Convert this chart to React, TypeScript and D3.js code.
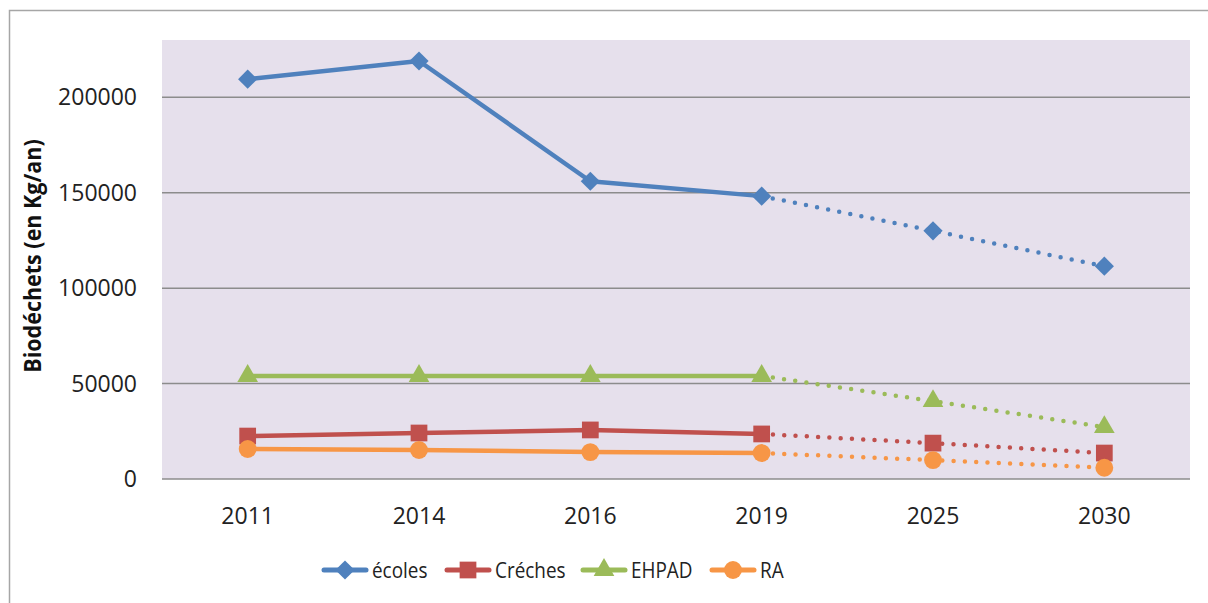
import React, { useEffect, useRef } from 'react';
import * as d3 from 'd3';

const years = ['2011', '2014', '2016', '2019', '2025', '2030'];
const ecoles = [209500, 219000, 156000, 148200, 130000, 111500];
const creches = [22500, 24100, 25700, 23600, 18800, 13600];
const ehpad = [54000, 54000, 54000, 54000, 40800, 27200];
const ra = [15700, 15200, 14100, 13600, 9900, 5900];
const yTicks = [0, 50000, 100000, 150000, 200000];

const seriesNames = ['écoles', 'Créches', 'EHPAD', 'RA'];
const seriesColors = ['#4f81bd', '#c0504d', '#9bbb59', '#f79646'];
const seriesShapes = [d3.symbolSquare, d3.symbolSquare, d3.symbolTriangle, d3.symbolCircle];
const shapeSizes = [185, 280, 185, 250];
const shapeRotate = [45, 0, 0, 0];
const legendX = [324, 447, 583, 712];

const W = 1208, H = 603;
const left = 162, right = 1190, top = 40, bottom = 479;
const font = '"Open Sans", "DejaVu Sans", sans-serif';

const App = () => {
  const ref = useRef<SVGSVGElement>(null);

  useEffect(() => {
    const svg = d3.select(ref.current);
    svg.selectAll('*').remove();

    const x = d3.scalePoint().domain(years).range([left, right]).padding(0.5);
    const y = d3.scaleLinear().domain([0, 230000]).range([bottom, top]);

    // outer frame
    svg.append('rect').attr('x', 9.5).attr('y', 10.5).attr('width', 1220).attr('height', 620)
      .attr('fill', 'white').attr('stroke', '#a6a6a6').attr('stroke-width', 1.5);

    svg.append('rect').attr('x', left).attr('y', top).attr('width', right - left).attr('height', bottom - top)
      .attr('fill', '#e6e0ec');

    // grid
    svg.selectAll('.grid').data(yTicks).enter().append('line')
      .attr('x1', left).attr('x2', right)
      .attr('y1', d => y(d)).attr('y2', d => y(d))
      .attr('stroke', '#8c8c8c').attr('stroke-width', 1.5);

    svg.selectAll('.ylab').data(yTicks).enter().append('text')
      .text(d => String(d))
      .attr('x', 137).attr('y', d => y(d)).attr('dy', '0.35em')
      .attr('text-anchor', 'end').attr('font-family', font).attr('font-size', 23).attr('fill', '#222');

    svg.selectAll('.xlab').data(years).enter().append('text')
      .text(d => d)
      .attr('x', d => x(d)!).attr('y', 516).attr('dy', '0.35em')
      .attr('text-anchor', 'middle').attr('font-family', font).attr('font-size', 23).attr('fill', '#222');

    svg.append('text').text('Biodéchets (en Kg/an)')
      .attr('transform', 'translate(33,256) rotate(-90) scale(1,1.1)').attr('dy', '0.35em')
      .attr('text-anchor', 'middle').attr('font-family', font).attr('font-size', 21.5)
      .attr('font-weight', 'bold').attr('fill', '#111');

    const allSeries = [ecoles, creches, ehpad, ra];
    const line = d3.line<number>().x((d, i) => x(years[i])!).y(d => y(d));
    const lineDot = d3.line<number>().x((d, i) => x(years[i + 3])!).y(d => y(d));

    allSeries.forEach((vals, s) => {
      const g = svg.append('g');
      g.append('path').attr('d', line(vals.slice(0, 4)))
        .attr('fill', 'none').attr('stroke', seriesColors[s]).attr('stroke-width', 4.5)
        .attr('stroke-linejoin', 'round');
      g.append('path').attr('d', lineDot(vals.slice(3)))
        .attr('fill', 'none').attr('stroke', seriesColors[s]).attr('stroke-width', 4.5)
        .attr('stroke-linecap', 'round').attr('stroke-dasharray', '0 11.3');
      g.selectAll('.m').data(vals).enter().append('path')
        .attr('d', d3.symbol().type(seriesShapes[s]).size(shapeSizes[s])())
        .attr('transform', (d, i) => `translate(${x(years[i])},${y(d)}) rotate(${shapeRotate[s]})`)
        .attr('fill', seriesColors[s]);
    });

    // legend
    seriesNames.forEach((name, s) => {
      const lx = legendX[s];
      const g = svg.append('g');
      g.append('line').attr('x1', lx).attr('x2', lx + 42).attr('y1', 570).attr('y2', 570)
        .attr('stroke', seriesColors[s]).attr('stroke-width', 5).attr('stroke-linecap', 'round');
      g.append('path').attr('d', d3.symbol().type(seriesShapes[s]).size(shapeSizes[s])())
        .attr('transform', `translate(${lx + 21},570) rotate(${shapeRotate[s]})`).attr('fill', seriesColors[s]);
      g.append('text').text(name)
        .attr('transform', `translate(${lx + 48},570) scale(0.86,1)`).attr('dy', '0.35em')
        .attr('font-family', font).attr('font-size', 22).attr('fill', '#222');
    });
  }, []);

  return (
    <svg ref={ref} width={W} height={H} style={{ position: 'absolute', left: 0, top: 0, background: 'white' }} />
  );
};

export default App;
